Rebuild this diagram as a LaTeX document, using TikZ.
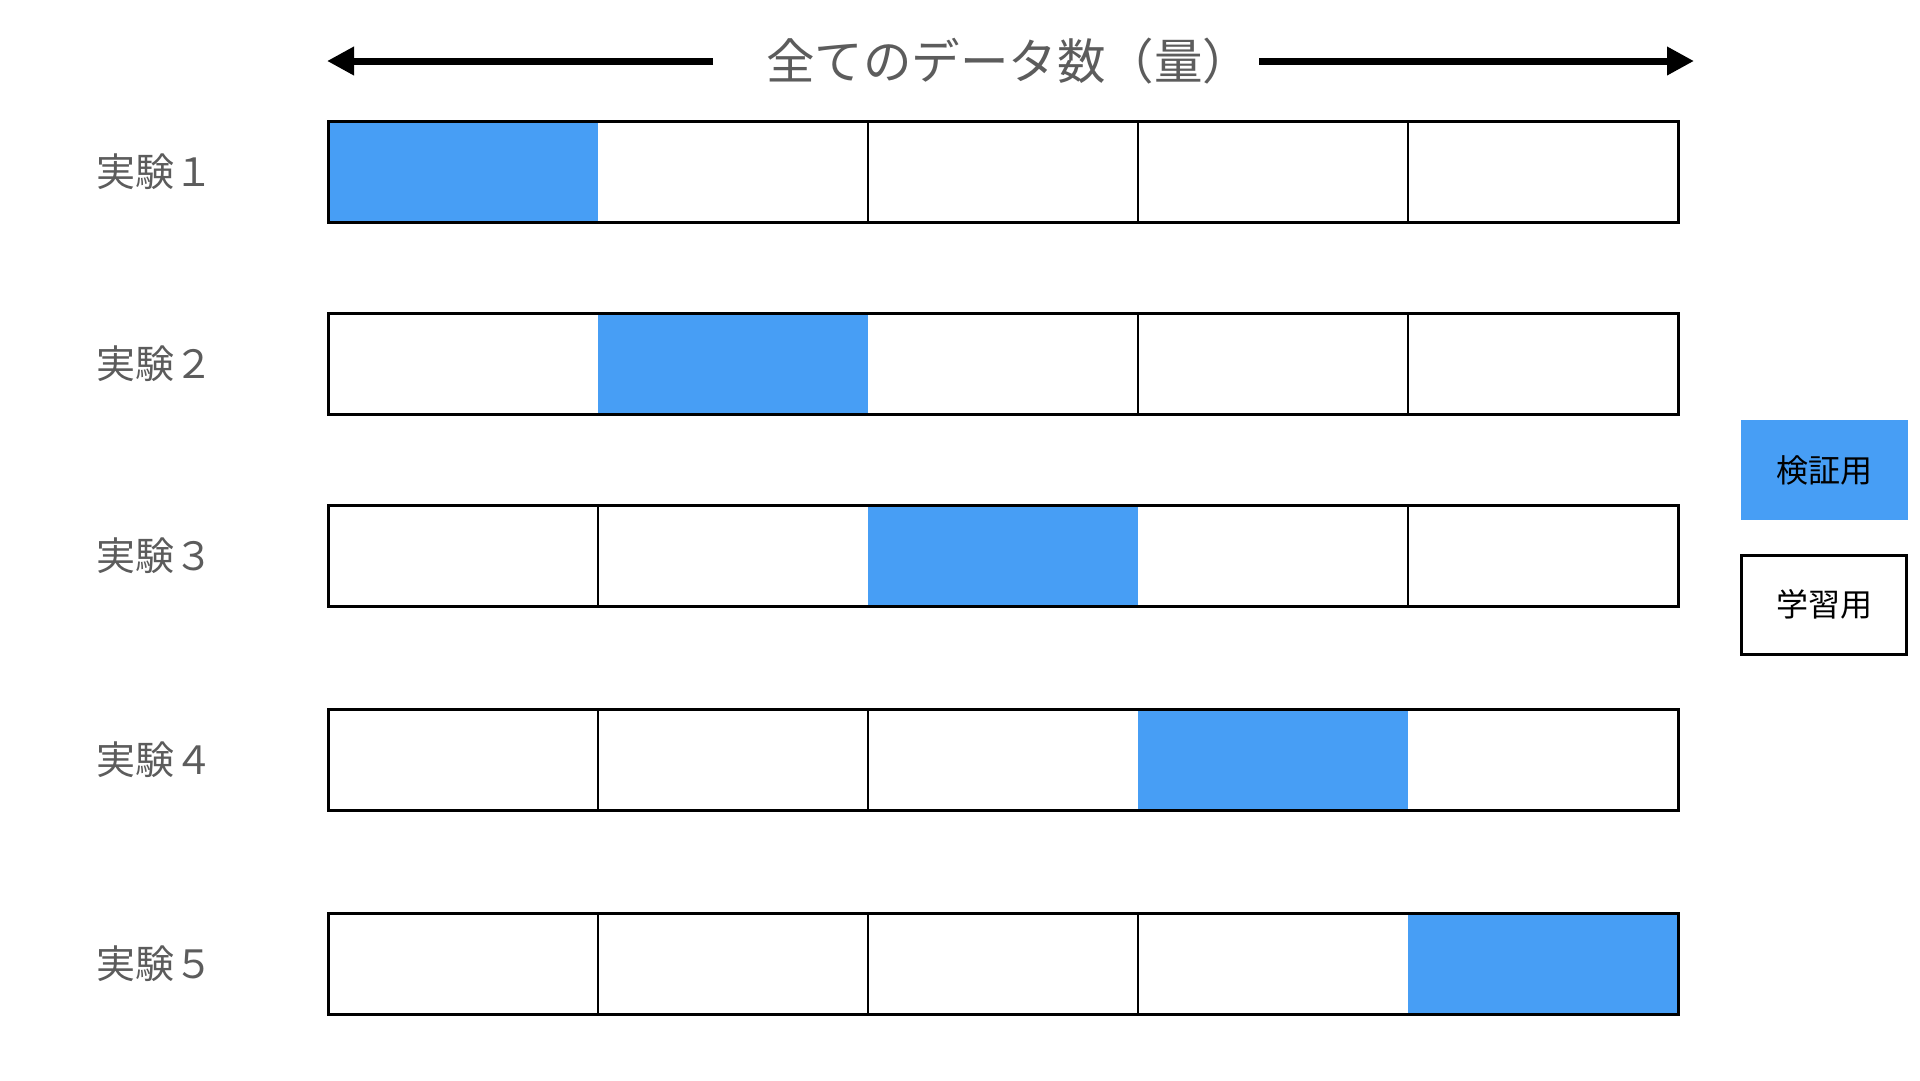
\documentclass[tikz,border=0pt]{standalone}
\usepackage{fontspec}
\setmainfont{Noto Sans CJK JP}
\usetikzlibrary{arrows.meta}
\definecolor{valblue}{HTML}{479EF5}
\definecolor{labgray}{HTML}{5C5C5C}
\begin{document}
\begin{tikzpicture}[x=1pt,y=-1pt,
  cellbox/.style={minimum width=270pt, minimum height=101pt, inner sep=0pt, outer sep=0pt, anchor=north west, fill=white},
  valcell/.style={cellbox, fill=valblue},
  divider/.style={draw=black, line width=2pt},
  outline/.style={draw=black, line width=3pt},
  explabel/.style={anchor=west, inner sep=0pt, text=labgray, font=\fontsize{39}{47}\selectfont},
  titletext/.style={anchor=west, inner sep=0pt, text=labgray, font=\fontsize{48.5}{58}\selectfont},
  bigarrow/.style={line width=7pt, -{Triangle[length=27pt,width=27pt]}},
  legendval/.style={minimum width=167pt, minimum height=100pt, inner sep=0pt, fill=valblue, font=\fontsize{32}{38}\selectfont},
  legendtrain/.style={minimum width=165pt, minimum height=99pt, inner sep=0pt, draw=black, line width=3pt, fill=white, font=\fontsize{32}{38}\selectfont}
]
\useasboundingbox[fill=white] (0,0) rectangle (1920,1080);

% title and arrows
\node[titletext] (title) at (766,61) {全てのデータ数（量）};
\coordinate (lstart) at (713,61);
\coordinate (ltip) at (327,61);
\coordinate (rstart) at (1259,61);
\coordinate (rtip) at (1694,61);
\draw[bigarrow] (lstart) -- (ltip);
\draw[bigarrow] (rstart) -- (rtip);

% rows
\foreach \r/\top/\v in {1/121/1, 2/313/2, 3/505.5/3, 4/709.5/4, 5/913/5} {
  \foreach \c in {1,...,5} {
    \ifnum\c=\v
      \node[valcell] (r\r c\c) at ({328+270*(\c-1)},\top) {};
    \else
      \node[cellbox] (r\r c\c) at ({328+270*(\c-1)},\top) {};
    \fi
  }
  \foreach \c in {1,...,4} {
    \pgfmathtruncatemacro{\nx}{\c+1}
    \ifnum\c=\v\else\ifnum\nx=\v\else
      \draw[divider] (r\r c\c.north east) -- (r\r c\c.south east);
    \fi\fi
  }
  \draw[outline] (r\r c1.north west) rectangle (r\r c5.south east);
  \node[explabel] (lab\r) at (96,{\top+50.5}) {実験\ifcase\r\or １\or ２\or ３\or ４\or ５\fi};
}

% legend
\node[legendval] (legval) at (1824,470) {検証用};
\node[legendtrain] (legtrain) at (1824,604.5) {学習用};
\end{tikzpicture}
\end{document}
